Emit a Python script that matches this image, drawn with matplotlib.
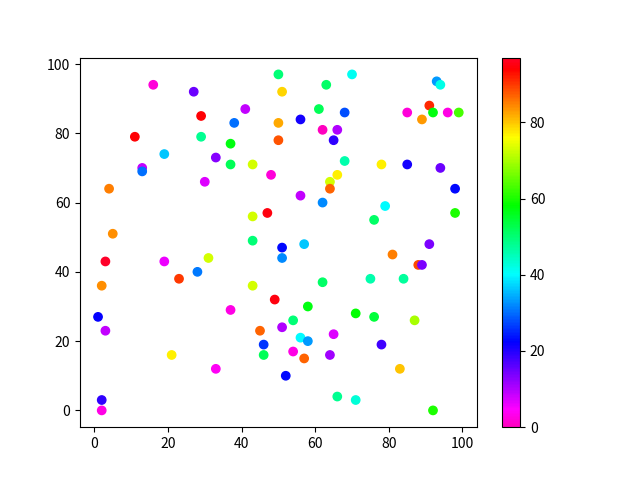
import matplotlib
matplotlib.use("Agg")
import matplotlib.pyplot as plt

plt.rcParams["font.family"] = ["Noto Sans CJK SC", "DejaVu Sans"]

# 散布図のデータ
x = [16, 27, 29, 41, 38, 50, 51, 50, 50, 11,
     29, 37, 19, 33, 37, 43, 13, 13, 48, 30,
     4, 47, 43, 5, 43,
     70, 63, 93, 94, 61, 68, 56, 85, 91, 92,
     96, 99, 89, 62, 66, 65, 68, 78, 85, 94,
     64, 66, 64, 56, 62, 79, 76, 98, 98,
     3, 19, 31, 28, 23, 2, 43, 49, 37, 1,
     3, 45, 46, 46, 21, 33, 2, 2,
     51, 57, 51, 91, 81, 88, 89, 62, 75, 84,
     58, 54, 71, 76, 87, 51, 65, 56, 58, 78,
     54, 64, 57, 52, 83, 66, 71, 92]
y = [94, 92, 85, 87, 83, 97, 92, 83, 78, 79,
     79, 77, 74, 73, 71, 71, 70, 69, 68, 66,
     64, 57, 56, 51, 49,
     97, 94, 95, 94, 87, 86, 84, 86, 88, 86,
     86, 86, 84, 81, 81, 78, 72, 71, 71, 70,
     66, 68, 64, 62, 60, 59, 55, 64, 57,
     43, 43, 44, 40, 38, 36, 36, 32, 29, 27,
     23, 23, 19, 16, 16, 12, 3, 0,
     47, 48, 44, 48, 45, 42, 42, 37, 38, 38,
     30, 26, 28, 27, 26, 24, 22, 21, 20, 19,
     17, 16, 15, 10, 12, 4, 3, 0]
colors = [2, 15, 94, 9, 30, 50, 79, 82, 88, 94,
          48, 57, 36, 13, 52, 73, 9, 30, 2, 7,
          85, 95, 73, 84, 50,
          41, 51, 33, 42, 52, 28, 21, 2, 91, 57,
          3, 63, 83, 0, 10, 19, 46, 77, 21, 15,
          73, 77, 87, 9, 32, 40, 51, 23, 60,
          97, 6, 73, 31, 90, 84, 73, 95, 3, 22,
          9, 87, 26, 52, 77, 4, 19, 3,
          23, 36, 32, 14, 85, 89, 14, 51, 46, 47,
          57, 50, 58, 54, 70, 10, 7, 40, 33, 18,
          3, 11, 87, 23, 80, 48, 43, 60]

fig, ax = plt.subplots(figsize=(6.4, 4.8), dpi=100)
sc = ax.scatter(x, y, c=colors, cmap="gist_rainbow_r")
fig.colorbar(sc, ax=ax)

plt.savefig("out.png")
